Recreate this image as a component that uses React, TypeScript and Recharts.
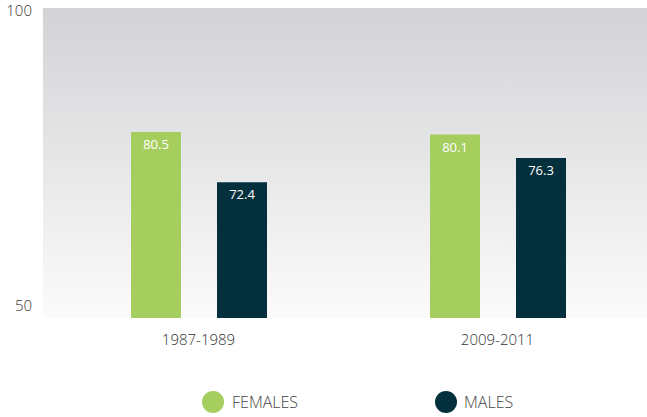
import {
  Bar,
  BarChart,
  CartesianGrid,
  LabelList,
  Legend,
  XAxis,
  YAxis,
} from "recharts";

const periods = ["1987-1989", "2009-2011"];
const females = [80.5, 80.1];
const males = [72.4, 76.3];
const yTicks = [50.5, 100];

const GREEN = "#a6ce5f";
const NAVY = "#03303c";
const FONT = "'Open Sans', 'Noto Sans', sans-serif";

const data = periods.map((p, i) => ({ period: p, females: females[i], males: males[i] }));

// the 50 label sits a little above the floor of the plot, the 100 one on its top edge
function YTick({ x, y, payload }: any) {
  const low = payload.value < 60;
  return (
    <text
      x={x}
      y={low ? y - 12 : y}
      dy="0.35em"
      textAnchor="end"
      fontSize={15}
      fontWeight={300}
      fill="#333"
      fontFamily={FONT}
    >
      {Math.floor(payload.value)}
    </text>
  );
}

function LegendBox() {
  const items = [
    { name: "FEMALES", color: GREEN, dot: 202, text: 232 },
    { name: "MALES", color: NAVY, dot: 435, text: 464 },
  ];
  return (
    <div style={{ position: "relative", height: 0 }}>
      {items.map((it) => (
        <div key={it.name}>
          <span
            style={{
              position: "absolute",
              left: it.dot,
              top: 1,
              width: 22,
              height: 22,
              borderRadius: "50%",
              background: it.color,
            }}
          />
          <span
            style={{
              position: "absolute",
              left: it.text,
              top: 0,
              fontSize: 16,
              fontWeight: 300,
              lineHeight: "24px",
              color: "#444",
              fontFamily: FONT,
              whiteSpace: "nowrap",
            }}
          >
            {it.name}
          </span>
        </div>
      ))}
    </div>
  );
}

export default function App() {
  return (
    <div style={{ position: "absolute", left: 0, top: 0 }}>
      <BarChart
        width={647}
        height={417}
        data={data}
        margin={{ top: 8, right: 0, bottom: 59, left: 0 }}
        barSize={50}
        barGap={36}
      >
        <defs>
          <linearGradient id="bg" x1="0" y1="0" x2="0" y2="1">
            <stop offset="0%" stopColor="#d2d3d5" />
            <stop offset="100%" stopColor="#fbfbfb" />
          </linearGradient>
        </defs>
        <CartesianGrid horizontal={false} vertical={false} fill="url(#bg)" />
        <XAxis
          dataKey="period"
          height={40}
          axisLine={false}
          tickLine={false}
          padding={{ left: 6, right: 0 }}
          tick={{ fontSize: 15, fontWeight: 300, fill: "#333", fontFamily: FONT }}
          tickMargin={10}
        />
        <YAxis
          width={43}
          domain={[50.5, 100.5]}
          ticks={yTicks}
          allowDataOverflow
          axisLine={false}
          tickLine={false}
          tickMargin={5}
          tick={<YTick />}
        />
        <Legend
          content={<LegendBox />}
          wrapperStyle={{ left: 0, top: 390, width: 647 }}
        />
        <Bar dataKey="females" fill={GREEN} isAnimationActive={false}>
          <LabelList
            dataKey="females"
            position="insideTop"
            offset={8}
            fill="#fff"
            fontSize={13}
            fontFamily={FONT}
          />
        </Bar>
        <Bar dataKey="males" fill={NAVY} isAnimationActive={false}>
          <LabelList
            dataKey="males"
            position="insideTop"
            offset={8}
            fill="#fff"
            fontSize={13}
            fontFamily={FONT}
          />
        </Bar>
      </BarChart>
    </div>
  );
}
